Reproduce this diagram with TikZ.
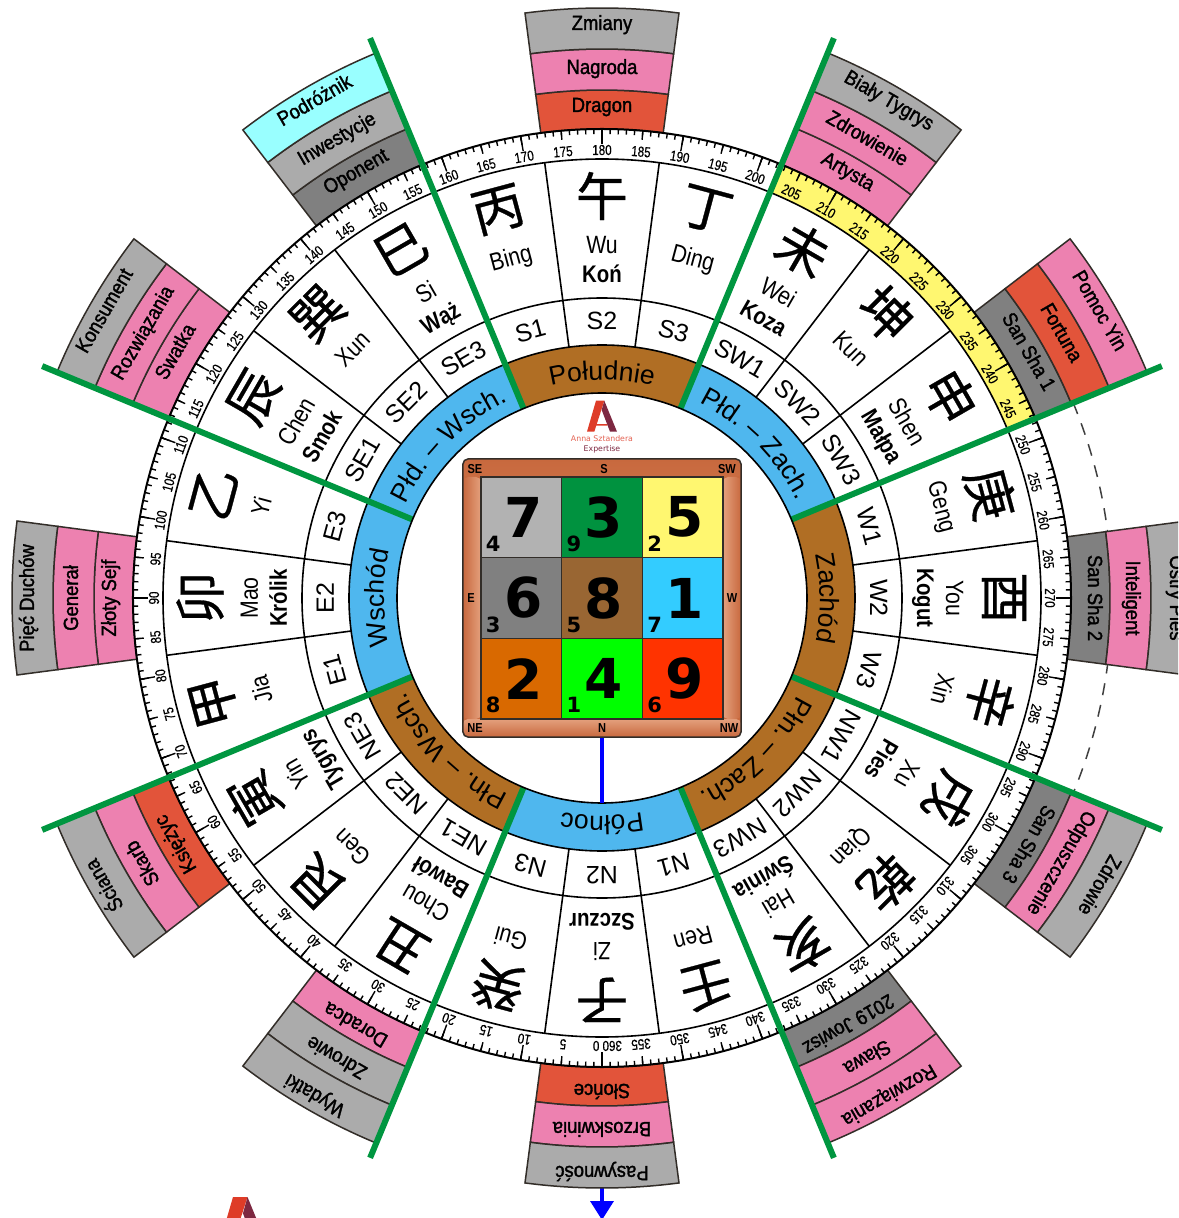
\documentclass[tikz,border=0pt]{standalone}
\usepackage{fontspec}
\setmainfont{Liberation Sans}
\newfontfamily\narrowfont[FakeStretch=0.85]{Liberation Sans}
\newfontfamily\bandfont[FakeStretch=0.9,FakeBold=1.6]{Liberation Sans}
\newfontfamily\dialfont[FakeStretch=0.8,FakeBold=0.3]{Liberation Sans}
\newfontfamily\cjkfont[FakeBold=0.6]{Noto Sans CJK SC}
\newfontfamily\digitfont{DejaVu Sans}
\usetikzlibrary{arrows.meta,decorations.text}

\definecolor{bandgray}{RGB}{171,171,171}
\definecolor{banddark}{RGB}{128,128,128}
\definecolor{bandpink}{RGB}{237,129,176}
\definecolor{bandred}{RGB}{226,84,58}
\definecolor{bandcyan}{RGB}{153,255,255}
\definecolor{ringbrown}{RGB}{176,110,36}
\definecolor{ringblue}{RGB}{79,183,238}
\definecolor{dialyellow}{RGB}{255,247,112}
\definecolor{linegreen}{RGB}{0,150,64}
\definecolor{edgedark}{RGB}{50,45,40}
\definecolor{framedark}{RGB}{200,105,62}
\definecolor{framelight}{RGB}{228,160,125}
\definecolor{logored}{RGB}{222,60,40}
\definecolor{logoplum}{RGB}{125,40,65}

\tikzset{
  bandline/.style={draw=edgedark, line width=1.5pt},
  bandtext/.style={font=\bandfont\fontsize{20.5}{24}\selectfont, anchor=base, inner sep=0pt},
  dialtext/.style={font=\dialfont\fontsize{14.5}{16}\selectfont, anchor=base, inner sep=0pt},
  glyphtext/.style={font=\cjkfont\fontsize{52}{56}\selectfont, inner sep=0pt},
  pinyintext/.style={font=\narrowfont\fontsize{25}{28}\selectfont, anchor=base, inner sep=0pt},
  animaltext/.style={font=\narrowfont\bfseries\fontsize{24}{28}\selectfont, anchor=base, inner sep=0pt},
  mounttext/.style={font=\fontsize{25}{28}\selectfont, anchor=base, inner sep=0pt},
  cellbox/.style={draw=edgedark, line width=1.5pt, minimum size=80.67pt, inner sep=0pt,
    font=\digitfont\bfseries\fontsize{55}{60}\selectfont},
  cellsmall/.style={font=\digitfont\bfseries\fontsize{21}{24}\selectfont, inner sep=0pt},
  framelabel/.style={font=\narrowfont\bfseries\fontsize{13}{15}\selectfont, inner sep=0pt},
  logomark/.pic={
    \fill[logored] (-4,0) -- (4.3,0) -- (-5.7,-31) -- (-13,-31) -- cycle;
    \fill[logoplum] (4.3,0) -- (17,-31) -- (10,-31) -- (1.7,-9.3) -- cycle;
    \fill[logored] (-4.5,-23.5) -- (7,-23.5) -- (7.5,-25) -- (-5,-25) -- cycle;
  }
}

% one cell of an outer band, #2 is its middle angle
\newcommand{\bandcell}[4]{
  \draw[bandline, fill=#1] (#2-7.5:#3) arc (#2-7.5:#2+7.5:#3) -- (#2+7.5:#4) arc (#2+7.5:#2-7.5:#4) -- cycle;
}
% text on the coloured ring
\newcommand{\ringlabel}[2]{
  \path[decorate, decoration={text along path, text={|\fontsize{26.5}{30}\selectfont|#2}, text align=center}]
    (#1+22:218) arc (#1+22:#1-22:218);
}

\begin{document}
\begin{tikzpicture}[x=1pt, y=1pt, line cap=butt]
  \clip (-602,-620) rectangle (576,598);
  \fill[white] (-602,-620) rectangle (576,598);

  % Dashed circle behind the bands
  \draw[black!75, line width=1.5pt, dash pattern=on 12pt off 10pt] (22.5:510) arc (22.5:-22.5:510);

  % Arrow to the north
  \coordinate (arrowroot) at (270:588);
  \coordinate (arrowtip) at (270:622);
  \draw[blue, line width=3.5pt, -{Triangle[length=19pt, width=23pt]}] (arrowroot) -- (arrowtip);

  % Outer bands
  \foreach \d/\ca/\cb/\cc/\ta/\tb/\tc in {
    180/bandred/bandpink/bandgray/Dragon/Nagroda/Zmiany,
    210/bandpink/bandpink/bandgray/Artysta/Zdrowienie/Biały Tygrys,
    240/banddark/bandred/bandpink/San Sha 1/Fortuna/Pomoc Yin,
    270/banddark/bandpink/bandgray/San Sha 2/Inteligent/Ostry Pies,
    300/banddark/bandpink/bandgray/San Sha 3/Odpuszczenie/Zdrowie,
    330/banddark/bandpink/bandpink/2019 Jowisz/Sława/Rozwiązania,
    0/bandred/bandpink/bandgray/Słońce/Brzoskwinia/Pasywność,
    30/bandpink/bandgray/bandgray/Doradca/Zdrowie/Wydatki,
    60/bandred/bandpink/bandgray/Księżyc/Skarb/Ściana,
    90/bandpink/bandpink/bandgray/Złoty Sejf/Generał/Pięć Duchów,
    120/bandpink/bandpink/bandgray/Swatka/Rozwiązania/Konsument,
    150/banddark/bandgray/bandcyan/Oponent/Inwestycje/Podróżnik}{
    \pgfmathsetmacro{\ang}{270-\d}
    \bandcell{\ca}{\ang}{469}{508}
    \bandcell{\cb}{\ang}{508}{549}
    \bandcell{\cc}{\ang}{549}{590}
    \node[bandtext, rotate=\ang-90] (banda\d) at (\ang:486) {\ta};
    \node[bandtext, rotate=\ang-90] (bandb\d) at (\ang:524) {\tb};
    \node[bandtext, rotate=\ang-90] (bandc\d) at (\ang:568) {\tc};
  }

  % Degree dial
  \fill[white] (0,0) circle (469);
  \fill[dialyellow] (67.5:439) arc (67.5:22.5:439) -- (22.5:469) arc (22.5:67.5:469) -- cycle;
  \foreach \d in {0,1,...,359}
    \draw[line width=1.4pt] (270-\d:469) -- (270-\d:464);
  \foreach \d in {0,5,...,355}
    \draw[line width=1.4pt] (270-\d:469) -- (270-\d:460);
  \foreach \d in {0,10,...,350}
    \draw[line width=1.4pt] (270-\d:469) -- (270-\d:454);
  \foreach \d in {5,10,...,355}{
    \pgfmathsetmacro{\ang}{270-\d}
    \node[dialtext, rotate=\ang-90] (deg\d) at (\ang:443) {\d};
  }
  \node[dialtext, rotate=180] (deg0) at (270.7:443) {360 0};
  \draw[line width=2pt] (0,0) circle (469);
  \draw[line width=1.6pt] (0,0) circle (439);

  % Mountains
  \draw[line width=1.6pt] (0,0) circle (300);
  \foreach \k in {0,...,23}
    \draw[line width=1.6pt] (7.5+15*\k:253) -- (7.5+15*\k:439);
  \foreach \d/\glyph/\pinyin/\mount in {
    0/子/Zi/N2, 15/癸/Gui/N3, 30/丑/Chou/NE1, 45/艮/Gen/NE2, 60/寅/Yin/NE3, 75/甲/Jia/E1,
    90/卯/Mao/E2, 105/乙/Yi/E3, 120/辰/Chen/SE1, 135/巽/Xun/SE2, 150/巳/Si/SE3, 165/丙/Bing/S1,
    180/午/Wu/S2, 195/丁/Ding/S3, 210/未/Wei/SW1, 225/坤/Kun/SW2, 240/申/Shen/SW3, 255/庚/Geng/W1,
    270/酉/You/W2, 285/辛/Xin/W3, 300/戌/Xu/NW1, 315/乾/Qian/NW2, 330/亥/Hai/NW3, 345/壬/Ren/N1}{
    \pgfmathsetmacro{\ang}{270-\d}
    \node[glyphtext, rotate=\ang-90] (glyph\d) at (\ang:402) {\glyph};
    \node[pinyintext, rotate=\ang-90] (pinyin\d) at (\ang:344) {\pinyin};
    \node[mounttext, rotate=\ang-90] (mount\d) at (\ang:268) {\mount};
  }
  \foreach \d/\animal in {0/Szczur, 30/Bawół, 60/Tygrys, 90/Królik, 120/Smok, 150/Wąż,
    180/Koń, 210/Koza, 240/Małpa, 270/Kogut, 300/Pies, 330/Świnia}{
    \pgfmathsetmacro{\ang}{270-\d}
    \node[animaltext, rotate=\ang-90] (animal\d) at (\ang:315) {\animal};
  }

  % Coloured ring
  \foreach \ang/\col in {90/ringbrown, 45/ringblue, 0/ringbrown, -45/ringbrown,
    -90/ringblue, -135/ringbrown, 180/ringblue, 135/ringblue}
    \fill[\col] (\ang-22.5:205) arc (\ang-22.5:\ang+22.5:205) -- (\ang+22.5:253) arc (\ang+22.5:\ang-22.5:253) -- cycle;
  \draw[line width=1.6pt] (0,0) circle (253);
  \ringlabel{90}{Południe}
  \ringlabel{45}{Płd. – Zach.}
  \ringlabel{0}{Zachód}
  \ringlabel{-45}{Płn. – Zach.}
  \ringlabel{-90}{Północ}
  \ringlabel{-135}{Płn. – Wsch.}
  \ringlabel{180}{Wschód}
  \ringlabel{135}{Płd. – Wsch.}

  % Green dividers
  \foreach \ang in {22.5,67.5,...,337.5}
    \draw[linegreen, line width=6pt] (\ang:205) -- (\ang:606);

  % Centre
  \draw[fill=white, line width=1.6pt] (0,0) circle (205);
  \pic at (-2,197.3) {logomark};
  \node[inner sep=0pt, text=logored!80!white, font=\digitfont\fontsize{7.8}{9}\selectfont] (logoname) at (0,159) {Anna Sztandera};
  \node[inner sep=0pt, text=logoplum, font=\digitfont\fontsize{7.8}{9}\selectfont] (logosub) at (0,149) {Expertise};
  \pic[scale=1.75] at (-362,-599) {logomark};

  % Square with the numbers
  \node[draw=edgedark, fill=framedark, line width=1.5pt, rounded corners=5pt, minimum size=278pt, inner sep=0pt, path picture={
      \shade[top color=framedark, bottom color=framelight] (-139,121) rectangle (139,139);
      \shade[top color=framelight, bottom color=framedark] (-139,-139) rectangle (139,-121);
      \shade[left color=framedark, right color=framelight] (-139,-121) rectangle (-121,121);
      \shade[left color=framelight, right color=framedark] (121,-121) rectangle (139,121);
    }] (square) at (0,0) {};
  \coordinate (ringnorth) at (270:205);
  \draw[blue, line width=3.5pt] (square.south) -- (ringnorth);
  \foreach \col/\row/\shadecol/\big/\little in {
    -1/1/{black!30}/7/4, 0/1/{rgb,255:red,0;green,146;blue,63}/3/9, 1/1/dialyellow/5/2,
    -1/0/banddark/6/3, 0/0/{rgb,255:red,153;green,102;blue,51}/8/5, 1/0/{rgb,255:red,51;green,204;blue,255}/1/7,
    -1/-1/{rgb,255:red,217;green,105;blue,0}/2/8, 0/-1/{rgb,255:red,0;green,255;blue,0}/4/1, 1/-1/{rgb,255:red,255;green,51;blue,0}/9/6}{
    \node[cellbox, fill=\shadecol] (cell\big) at (\col*80.67,\row*80.67) {\hspace{4pt}\big};
    \node[cellsmall] (corner\big) at ([shift={(13,14.5)}]cell\big.south west) {\little};
  }
  \node[framelabel] (labelse) at (-127,129) {SE};
  \node[framelabel] (labels) at (2,129) {S};
  \node[framelabel] (labelsw) at (125,129) {SW};
  \node[framelabel] (labele) at (-131,0) {E};
  \node[framelabel] (labelw) at (130,0) {W};
  \node[framelabel] (labelne) at (-127,-130) {NE};
  \node[framelabel] (labeln) at (0,-130) {N};
  \node[framelabel] (labelnw) at (127,-130) {NW};
\end{tikzpicture}
\end{document}
